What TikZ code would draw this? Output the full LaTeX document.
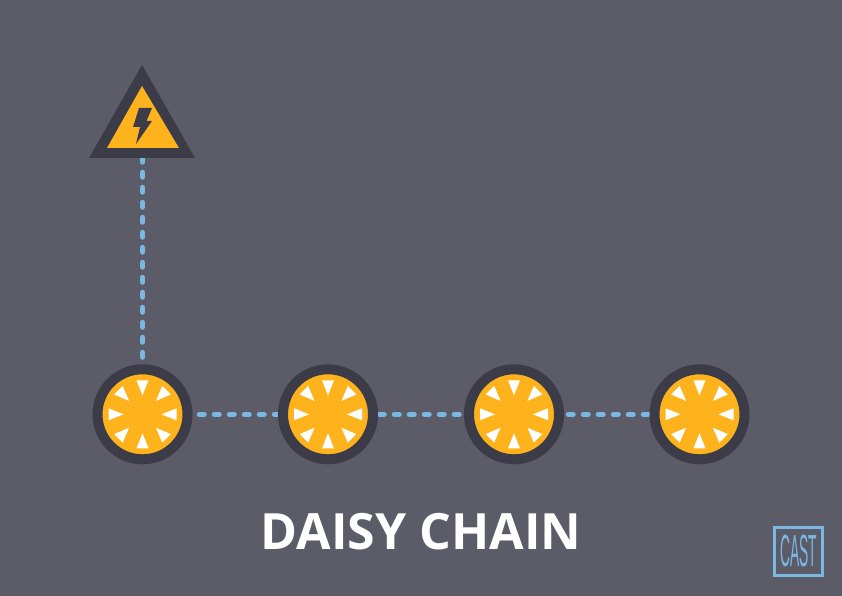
\documentclass[tikz,border=0pt]{standalone}
\usepackage{fontspec}
\setmainfont{Open Sans}
\newfontfamily\castfont{Liberation Sans}
\usetikzlibrary{backgrounds}
\definecolor{cus-bg}{RGB}{92, 92, 104}
\definecolor{cus-dark}{RGB}{60, 60, 72}
\definecolor{cus-amber}{RGB}{254, 178, 28}
\definecolor{cus-sky}{RGB}{122, 184, 226}
\tikzset{
	lamp/.style={circle,draw=cus-dark,fill=cus-amber,line width=10pt,minimum size=90pt,inner sep=0pt},
	wire/.style={cus-sky,line width=5.5pt,line cap=round,dash pattern=on 4.5pt off 10.5pt},
}
\newcommand{\spokes}[2]{
	\begin{scope}[xshift = #1, yshift = -#2]
		\foreach \r in {0,45,...,315}{
			\fill [white,rotate around ={\r:(0,0)}] (0,-19)--(-6,-34)--(6,-34) -- cycle;
		}
	\end{scope}
}
\begin{document}
\begin{tikzpicture}[x=1pt,y=-1pt]
\useasboundingbox (0,0) rectangle (842,596);

\node [lamp] (lamp1) at (142.5,414.3) {};
\node [lamp] (lamp2) at (328,414.3) {};
\node [lamp] (lamp3) at (514,414.3) {};
\node [lamp] (lamp4) at (699.5,414.3) {};
\foreach \x in {142.5pt,328pt,514pt,699.5pt}{
	\spokes{\x}{414.3pt}
}

% warning sign
\fill [cus-dark] (142,65)--(195,158)--(89,158) -- cycle;
\fill [cus-amber] (142,86)--(179,148)--(107,148) -- cycle;
\fill [cus-dark] (139,108)--(152,108)--(146.5,121)--(152,121)--(136,144)--(140,127)--(133,127) -- cycle;
\coordinate (warn) at (142.5,157.5);

\begin{scope}[on background layer]
	\fill [cus-bg] (0,0) rectangle (842,596);
	\draw [wire,shorten >=6.5pt] (warn) -- (lamp1);
	\draw [wire,shorten <=7pt] (lamp1) -- (lamp2);
	\draw [wire,shorten <=1.5pt] (lamp2) -- (lamp3);
	\draw [wire,shorten <=4.5pt] (lamp3) -- (lamp4);
\end{scope}

\node [white,font=\fontsize{50}{50}\selectfont\bfseries,inner sep=0pt] (title) at (421,531.5) {DAISY CHAIN};

\node [draw=cus-sky,line width=3pt,minimum size=48pt,inner sep=0pt,text=cus-sky] (cast) at (798.6,551)
	{\castfont\scalebox{0.46}[1.5]{\fontsize{30}{30}\selectfont CAST}};
\end{tikzpicture}
\end{document}
